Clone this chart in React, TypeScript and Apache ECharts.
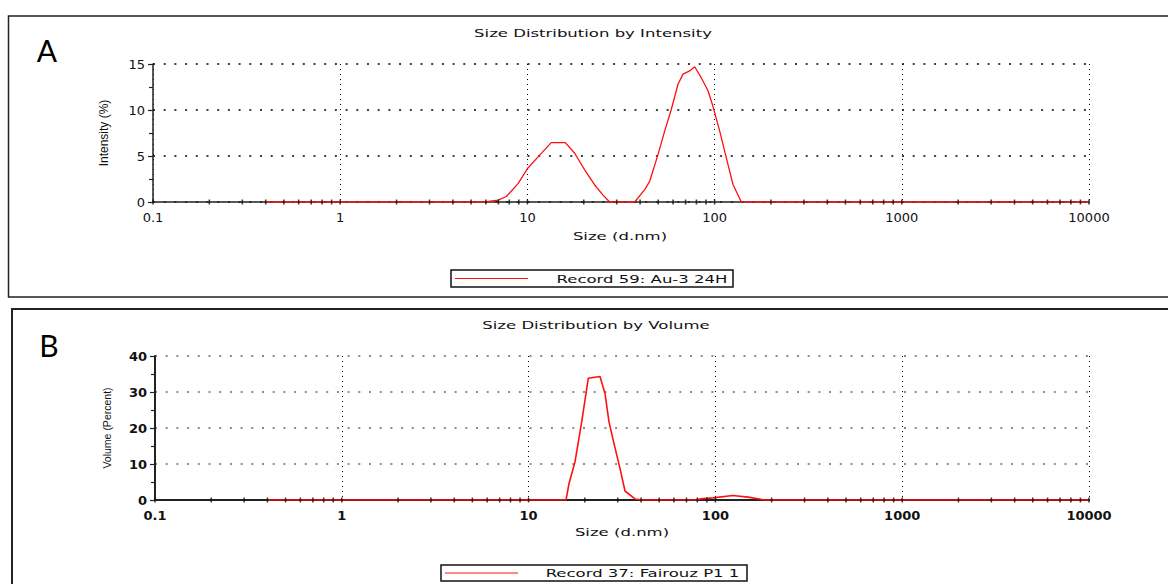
import { useEffect, useRef } from "react";
import * as echarts from "echarts";

// Panel A: Size Distribution by Intensity
const sizesA = [0.4, 5.94, 6.97, 7.72, 8.91, 10.07, 11.63, 13.42, 15.94, 17.89, 20.23, 22.88, 25.34, 27.52, 37.42, 42.33, 45.0, 49.85, 54.1, 58.7, 63.75, 67.8, 73.6, 78.3, 84.9, 92.2, 98.0, 106.5, 115.5, 125.4, 138.9, 10000];
const intensityA = [0, 0, 0.2, 0.6, 2.0, 3.7, 5.1, 6.45, 6.45, 5.3, 3.5, 1.85, 0.75, 0, 0, 1.35, 2.25, 5.15, 7.7, 10.05, 12.8, 13.9, 14.25, 14.7, 13.5, 12.1, 10.4, 7.7, 4.8, 1.9, 0, 0];

// Panel B: Size Distribution by Volume
const sizesB = [0.4, 15.86, 16.46, 17.72, 19.24, 20.87, 24.11, 25.64, 26.94, 28.76, 30.85, 32.81, 37.12, 40.96, 78, 83, 97, 124, 149.5, 175, 182, 10000];
const volumeB = [0, 0, 4.6, 10.6, 21.7, 33.8, 34.3, 29.6, 21.7, 15.3, 8.8, 2.5, 0.3, 0, 0, 0.3, 0.6, 1.25, 0.8, 0.2, 0, 0];

// size-axis tick marks (1..9 within every decade)
const decades = [0.1, 1, 10, 100, 1000];
const multipliers = [1, 2, 3, 4, 5, 6, 7, 8, 9];
const sizeTickValues = [...decades.flatMap((d) => multipliers.map((m) => d * m)), 10000];

const titleA = "Size Distribution by Intensity";
const titleB = "Size Distribution by Volume";
const xName = "Size (d.nm)";
const yNameA = "Intensity (%)";
const yNameB = "Volume (Percent)";
const legendA = "Record 59: Au-3 24H";
const legendB = "Record 37: Fairouz P1 1";

const FONT = "DejaVu Sans";
const STRETCH = 1.5;

const sizeFormatter = (v: number) => (v < 1 ? v.toFixed(1) : String(Math.round(v)));

function xAxis(gridIndex: number, bold: boolean, dotColor: string) {
  return {
    type: "log",
    logBase: 10,
    gridIndex,
    position: "bottom",
    min: 0.1,
    max: 10000,
    axisLine: { show: true, onZero: false, lineStyle: { color: "#222", width: bold ? 2 : 1.5 } },
    axisTick: { show: false },
    axisLabel: {
      show: true,
      margin: 9,
      color: "#111",
      fontSize: 13,
      fontFamily: FONT,
      fontWeight: bold ? "bold" : "normal",
      formatter: sizeFormatter,
    },
    splitLine: { show: true, lineStyle: { color: dotColor, width: 1, type: [1, 4] } },
  };
}

function yAxis(gridIndex: number, max: number, interval: number, name: string, bold: boolean, dotColor: string, nameSize: number) {
  return {
    type: "value",
    gridIndex,
    min: 0,
    max,
    interval,
    axisLine: { show: true, lineStyle: { color: "#222", width: bold ? 2 : 1.5 } },
    axisTick: { show: true, length: 5, lineStyle: { color: "#222", width: 1.2 } },
    minorTick: { show: true, splitNumber: 2, length: 4, lineStyle: { color: "#222", width: 1.2 } },
    minorSplitLine: { show: false },
    axisLabel: {
      margin: 8,
      color: "#111",
      fontSize: 13,
      fontFamily: FONT,
      fontWeight: bold ? "bold" : "normal",
    },
    splitLine: { show: true, lineStyle: { color: dotColor, width: 1.5, type: [2, 8.7] } },
    name,
    nameLocation: "middle",
    nameRotate: 90,
    nameGap: 43,
    nameTextStyle: { fontFamily: "Liberation Sans", fontSize: nameSize, color: "#111" },
  };
}

function tickMarks(xAxisIndex: number, yAxisIndex: number) {
  return {
    type: "scatter",
    xAxisIndex,
    yAxisIndex,
    data: sizeTickValues.map((v) => [v, 0]),
    symbol: "rect",
    symbolSize: [1.6, 5],
    itemStyle: { color: "#111" },
    clip: false,
    silent: true,
    z: 6,
  };
}

function stretchedText(x: number, y: number, text: string, size = 11) {
  return {
    type: "text",
    x,
    y,
    scaleX: STRETCH,
    style: {
      text,
      x: 0,
      y: 0,
      align: "center",
      verticalAlign: "middle",
      fontFamily: FONT,
      fontSize: size,
      fill: "#111",
    },
  };
}

export default function App() {
  const ref = useRef<HTMLDivElement>(null);
  useEffect(() => {
    if (!ref.current) return;
    const chart = echarts.init(ref.current, null, { renderer: "svg" });
    chart.setOption({
      animation: false,
      backgroundColor: "#ffffff",
      grid: [
        { left: 153, top: 64, width: 936, height: 138 },
        { left: 155, top: 356, width: 934, height: 144 },
      ],
      xAxis: [xAxis(0, false, "#000"), xAxis(1, true, "#000")],
      yAxis: [
        yAxis(0, 15, 5, yNameA, false, "#000", 12),
        yAxis(1, 40, 10, yNameB, true, "#666", 10.5),
      ],
      series: [
        {
          type: "line",
          name: legendA,
          xAxisIndex: 0,
          yAxisIndex: 0,
          data: sizesA.map((s, i) => [s, intensityA[i]]),
          symbol: "none",
          lineStyle: { color: "#ff1010", width: 1.3 },
          z: 5,
        },
        {
          type: "line",
          name: legendB,
          xAxisIndex: 1,
          yAxisIndex: 1,
          data: sizesB.map((s, i) => [s, volumeB[i]]),
          symbol: "none",
          lineStyle: { color: "#ff1010", width: 1.6 },
          z: 5,
        },
        tickMarks(0, 0),
        tickMarks(1, 1),
      ],
      graphic: [
        { type: "rect", shape: { x: 8.5, y: 16, width: 1180, height: 281 }, style: { fill: "none", stroke: "#222", lineWidth: 1.5 } },
        { type: "rect", shape: { x: 12, y: 309, width: 1180, height: 300 }, style: { fill: "none", stroke: "#222", lineWidth: 2 } },
        { type: "text", x: 47, y: 50, style: { text: "A", align: "center", verticalAlign: "middle", fontFamily: "Lato", fontSize: 30, fill: "#000" } },
        { type: "text", x: 49, y: 345, style: { text: "B", align: "center", verticalAlign: "middle", fontFamily: "Lato", fontSize: 30, fill: "#000" } },
        stretchedText(593, 33, titleA),
        stretchedText(596, 325, titleB),
        stretchedText(620, 236, xName),
        stretchedText(622, 532, xName),
        // legend A
        { type: "rect", shape: { x: 451, y: 270, width: 282, height: 17 }, style: { fill: "#fff", stroke: "#111", lineWidth: 1.5 } },
        { type: "line", shape: { x1: 455, y1: 278.5, x2: 528, y2: 278.5 }, style: { stroke: "#ff1010", lineWidth: 1 } },
        stretchedText(642, 279, legendA),
        // legend B
        { type: "rect", shape: { x: 441, y: 565, width: 306, height: 16 }, style: { fill: "#fff", stroke: "#111", lineWidth: 1.5 } },
        { type: "line", shape: { x1: 445, y1: 573, x2: 518, y2: 573 }, style: { stroke: "#ff1010", lineWidth: 1 } },
        stretchedText(642.5, 573.5, legendB),
      ],
    });
    return () => chart.dispose();
  }, []);
  return <div ref={ref} style={{ position: "fixed", left: 0, top: 0, width: 1168, height: 584 }} />;
}
